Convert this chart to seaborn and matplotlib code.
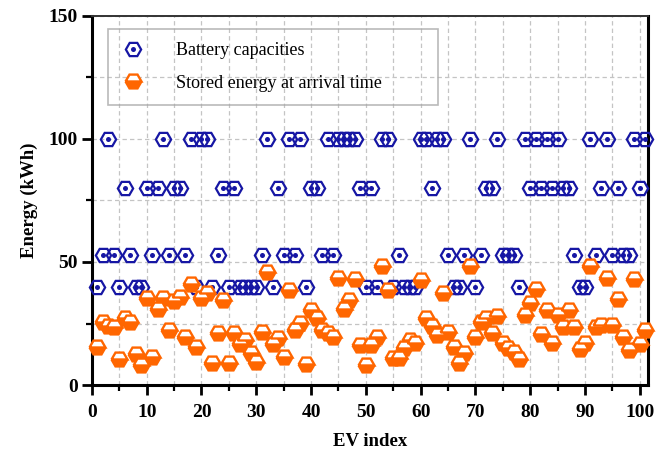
import matplotlib
matplotlib.use("Agg")
import matplotlib.pyplot as plt
import seaborn as sns
import pandas as pd
from matplotlib.ticker import MultipleLocator
from matplotlib.legend_handler import HandlerTuple

# ---------------- data ----------------
ev_index = list(range(1, 102))

battery_capacity = [
    40, 53, 100, 53, 40, 80, 53, 40, 40, 80,
    53, 80, 100, 53, 80, 80, 53, 100, 40, 100,
    100, 40, 53, 80, 40, 80, 40, 40, 40, 40,
    53, 100, 40, 80, 53, 100, 53, 100, 40, 80,
    80, 53, 100, 53, 100, 100, 100, 100, 80, 40,
    80, 40, 100, 100, 40, 53, 40, 40, 40, 100,
    100, 80, 100, 100, 53, 40, 40, 53, 100, 40,
    53, 80, 80, 100, 53, 53, 53, 40, 100, 80,
    100, 80, 100, 80, 100, 80, 80, 53, 40, 40,
    100, 53, 80, 100, 53, 80, 53, 53, 100, 80,
    100,
]

stored_energy = [
    15.4, 25.8, 23.8, 23.5, 10.5, 27.2, 25.8, 12.5, 8.2, 35.3,
    11.5, 30.9, 35.3, 22.4, 34.0, 35.6, 19.4, 41.0, 15.6, 35.3,
    37.4, 8.8, 21.1, 34.4, 8.8, 21.3, 16.6, 18.3, 12.9, 9.5,
    21.7, 45.8, 16.6, 19.0, 11.5, 38.7, 22.4, 25.4, 8.6, 30.6,
    27.2, 22.4, 21.3, 19.4, 43.5, 30.9, 34.4, 43.1, 16.3, 8.2,
    16.3, 19.4, 48.5, 38.7, 10.9, 10.9, 15.0, 18.3, 17.2, 42.8,
    27.2, 23.8, 20.4, 37.6, 21.7, 15.6, 8.8, 13.2, 48.2, 19.4,
    25.8, 27.2, 21.1, 28.1, 17.2, 15.0, 13.6, 10.5, 28.5, 33.3,
    39.0, 20.8, 30.6, 17.2, 28.5, 23.5, 30.3, 23.5, 14.5, 17.0,
    48.2, 23.5, 24.5, 43.5, 24.5, 34.9, 19.4, 14.3, 43.1, 16.7,
    22.4,
]

labels = ["Battery capacities", "Stored energy at arrival time"]
x_label = "EV index"
y_label = "Energy (kWh)"

# ---------------- style ----------------
sns.set_theme(style="white")
plt.rcParams['font.family'] = ['Liberation Serif', 'DejaVu Serif']

BLUE = "#1616a4"
ORANGE = "#ff6600"

df = pd.DataFrame({"ev": ev_index, "cap": battery_capacity, "soc": stored_energy})

fig = plt.figure(figsize=(6.66, 4.53), dpi=100)
ax = fig.add_axes([0.138, 0.150, 0.835, 0.815])

# battery capacities: open hexagon with a dot
sns.lineplot(data=df, x="ev", y="cap", ax=ax, estimator=None, linestyle="",
             marker="H", markersize=11, markerfacecolor="none",
             markeredgecolor=BLUE, markeredgewidth=1.6, color=BLUE,
             clip_on=False, zorder=3)
sns.lineplot(data=df, x="ev", y="cap", ax=ax, estimator=None, linestyle="",
             marker="o", markersize=3.6, markerfacecolor=BLUE,
             markeredgecolor=BLUE, markeredgewidth=0, color=BLUE,
             clip_on=False, zorder=3)
# stored energy: half-filled hexagon
sns.lineplot(data=df, x="ev", y="soc", ax=ax, estimator=None, linestyle="",
             marker="H", markersize=11.5, fillstyle="bottom",
             markerfacecolor=ORANGE, markerfacecoloralt="white",
             markeredgecolor=ORANGE, markeredgewidth=1.7, color=ORANGE,
             clip_on=False, zorder=4)

h_hex, h_dot, h_or = ax.lines[0], ax.lines[1], ax.lines[2]

ax.set_xlim(0, 101.5)
ax.set_ylim(0, 150)
ax.xaxis.set_major_locator(MultipleLocator(10))
ax.xaxis.set_minor_locator(MultipleLocator(5))
ax.yaxis.set_major_locator(MultipleLocator(50))
ax.yaxis.set_minor_locator(MultipleLocator(25))

ax.set_axisbelow(True)
ax.grid(which="both", linestyle=(0, (3.5, 2.5)), color="#c4c4c4", linewidth=0.9)

for side in ["left", "bottom", "right"]:
    ax.spines[side].set_linewidth(2.2)
    ax.spines[side].set_color("black")
ax.spines["top"].set_linewidth(1.4)
ax.spines["top"].set_color("#333333")

ax.tick_params(which="major", direction="out", length=7, width=2, color="black",
               bottom=True, left=True, top=False, right=False, pad=7)
ax.tick_params(which="minor", direction="out", length=4.3, width=1.6, color="black",
               bottom=True, left=True, top=False, right=False)
ax.tick_params(axis="y", which="major", pad=3)

for lab in ax.get_xticklabels() + ax.get_yticklabels():
    lab.set_fontsize(14)
    lab.set_fontweight("bold")
    lab.set_color("black")

ax.set_xlabel(x_label, fontsize=13.5, fontweight="bold", color="black", labelpad=8)
ax.set_ylabel(y_label, fontsize=13.5, fontweight="bold", color="black", labelpad=8)

leg = ax.legend([(h_hex, h_dot), h_or], labels,
                handler_map={tuple: HandlerTuple(ndivide=1)},
                loc="upper left", bbox_to_anchor=(0.0286, 0.965, 0.593, 0.0),
                mode="expand", borderaxespad=0, numpoints=1,
                fontsize=13, handlelength=1.3, handletextpad=1.7,
                borderpad=0.75, labelspacing=0.85, fancybox=False,
                frameon=True)
frame = leg.get_frame()
frame.set_facecolor("none")
frame.set_edgecolor("#a8a8a8")
frame.set_linewidth(1.2)
for t in leg.get_texts():
    t.set_color("black")

fig.savefig("out.png", dpi=100)
